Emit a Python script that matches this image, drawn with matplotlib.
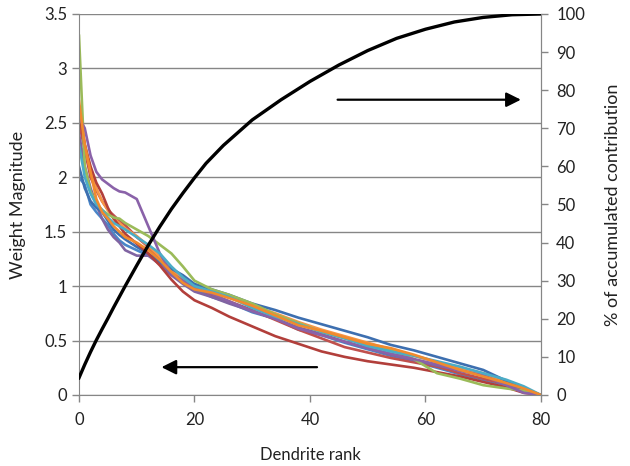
import matplotlib
matplotlib.use("Agg")
import matplotlib.pyplot as plt
from matplotlib.ticker import FuncFormatter, MultipleLocator

plt.rcParams['font.family'] = ['Lato', 'DejaVu Sans']

ranks = [0, 1, 2, 3, 4, 5, 6, 7, 8, 10, 12, 14, 16, 18, 20, 23, 26, 30, 34, 38,
         42, 46, 50, 54, 58, 62, 66, 70, 74, 77, 80]

w_blue = [2.1, 1.9, 1.78, 1.72, 1.68, 1.6, 1.52, 1.47, 1.43, 1.36, 1.3, 1.22, 1.16, 1.1, 1.02, 0.97,
          0.92, 0.84, 0.78, 0.71, 0.65, 0.59, 0.53, 0.46, 0.41, 0.35, 0.29, 0.23, 0.13, 0.05, 0.0]
w_red = [2.6, 2.3, 2.1, 1.95, 1.85, 1.72, 1.62, 1.55, 1.48, 1.39, 1.3, 1.19, 1.06, 0.95, 0.87, 0.8,
         0.72, 0.63, 0.54, 0.47, 0.4, 0.35, 0.31, 0.28, 0.25, 0.21, 0.17, 0.12, 0.07, 0.02, 0.0]
w_green = [3.3, 2.1, 1.87, 1.76, 1.7, 1.66, 1.63, 1.62, 1.58, 1.52, 1.46, 1.38, 1.3, 1.18, 1.05, 0.97,
           0.92, 0.84, 0.74, 0.66, 0.58, 0.52, 0.46, 0.41, 0.33, 0.2, 0.15, 0.09, 0.06, 0.04, 0.0]
w_purple = [2.55, 2.45, 2.2, 2.05, 1.98, 1.94, 1.9, 1.87, 1.86, 1.8, 1.55, 1.3, 1.12, 1.05, 0.98, 0.93,
            0.86, 0.77, 0.7, 0.61, 0.55, 0.49, 0.43, 0.38, 0.33, 0.28, 0.22, 0.18, 0.09, 0.02, 0.0]
w_aqua = [2.3, 2.0, 1.85, 1.75, 1.7, 1.63, 1.58, 1.55, 1.52, 1.45, 1.38, 1.3, 1.18, 1.08, 1.0, 0.95,
          0.9, 0.8, 0.72, 0.65, 0.58, 0.52, 0.45, 0.4, 0.36, 0.31, 0.26, 0.2, 0.14, 0.08, 0.0]
w_orange = [2.7, 2.3, 2.05, 1.8, 1.68, 1.62, 1.55, 1.5, 1.45, 1.4, 1.33, 1.24, 1.13, 1.03, 0.97, 0.94,
            0.89, 0.82, 0.73, 0.64, 0.59, 0.53, 0.47, 0.43, 0.37, 0.3, 0.23, 0.17, 0.11, 0.06, 0.0]
w_blue2 = [2.0, 1.93, 1.75, 1.68, 1.62, 1.56, 1.48, 1.42, 1.38, 1.33, 1.28, 1.26, 1.13, 1.03, 0.97, 0.9,
           0.85, 0.76, 0.7, 0.6, 0.55, 0.48, 0.42, 0.36, 0.31, 0.25, 0.19, 0.14, 0.09, 0.03, 0.0]
w_red2 = [2.5, 2.25, 2.0, 1.88, 1.78, 1.7, 1.65, 1.6, 1.56, 1.45, 1.36, 1.23, 1.12, 1.04, 0.99, 0.92,
          0.86, 0.78, 0.69, 0.6, 0.52, 0.44, 0.39, 0.34, 0.3, 0.26, 0.2, 0.15, 0.1, 0.03, 0.0]
w_purple2 = [2.4, 2.1, 1.9, 1.75, 1.62, 1.52, 1.45, 1.4, 1.33, 1.28, 1.28, 1.2, 1.1, 1.02, 0.95, 0.9,
             0.84, 0.77, 0.7, 0.62, 0.56, 0.49, 0.43, 0.37, 0.32, 0.27, 0.23, 0.19, 0.1, 0.03, 0.0]
w_teal2 = [2.65, 2.3, 2.05, 1.9, 1.78, 1.7, 1.62, 1.58, 1.53, 1.46, 1.37, 1.27, 1.15, 1.06, 1.01, 0.96,
           0.9, 0.82, 0.75, 0.67, 0.6, 0.54, 0.48, 0.42, 0.36, 0.3, 0.25, 0.2, 0.12, 0.06, 0.0]

# accumulated contribution (%)
cum_rank = [0, 1, 2, 3, 4, 5, 6, 8, 10, 12, 14, 16, 18, 20, 22, 25, 30, 35, 40, 45, 50, 55, 60, 65,
            70, 75, 80]
cum_pct = [4.5, 8.0, 11.3, 14.4, 17.3, 20.1, 23.0, 28.6, 34.0, 39.3, 44.2, 48.8, 53.0, 57.0, 60.8,
           65.5, 72.2, 77.5, 82.3, 86.6, 90.4, 93.6, 96.0, 97.9, 99.1, 99.8, 100]

series = [
    (w_blue2, '#4A86C8'), (w_red2, '#C0504D'), (w_purple2, '#8064A2'), (w_teal2, '#F79646'),
    (w_blue, '#3D6FB0'), (w_red, '#B23F3B'), (w_green, '#9BBB59'), (w_purple, '#8A62A9'),
    (w_aqua, '#4BACC6'), (w_orange, '#F08A2E'),
]

grey = '#868686'
txt = '#222222'
fig = plt.figure(figsize=(6.3, 4.66), dpi=100)
ax = fig.add_axes([0.1254, 0.1524, 0.7333, 0.8176])

for vals, col in series:
    ax.plot(ranks, vals, color=col, lw=1.9, solid_joinstyle='round')

ax.set_xlim(0, 80)
ax.set_ylim(0, 3.5)
ax.xaxis.set_major_locator(MultipleLocator(20))
ax.yaxis.set_major_locator(MultipleLocator(0.5))
ax.yaxis.set_major_formatter(FuncFormatter(lambda v, p: '{:g}'.format(v)))
ax.grid(axis='y', color=grey, lw=1)
ax.set_axisbelow(True)
ax.spines['top'].set_visible(False)
for s in ['left', 'bottom', 'right']:
    ax.spines[s].set_color(grey)
ax.tick_params(colors=grey, labelcolor=txt, labelsize=12, length=5, width=1)
ax.tick_params(axis='x', pad=7)
ax.set_xlabel('Dendrite rank', fontsize=12, color=txt, labelpad=14)
ax.set_ylabel('Weight Magnitude', fontsize=13, color=txt, labelpad=13)

ax2 = ax.twinx()
ax2.plot(cum_rank, cum_pct, color='black', lw=2.4)
ax2.set_ylim(0, 100)
ax2.yaxis.set_major_locator(MultipleLocator(10))
ax2.spines['top'].set_visible(False)
ax2.spines['right'].set_color(grey)
ax2.spines['left'].set_visible(False)
ax2.spines['bottom'].set_visible(False)
ax2.tick_params(colors=grey, labelcolor=txt, labelsize=12, length=5, width=1, pad=6)
ax2.set_ylabel('% of accumulated contribution', fontsize=13, color=txt, labelpad=14)

arrow = dict(arrowstyle='-|>', color='black', lw=1.6, mutation_scale=22)
ax2.annotate('', xy=(77, 77.5), xytext=(44.3, 77.5), arrowprops=arrow)
ax2.annotate('', xy=(13.8, 7.3), xytext=(41.7, 7.3), arrowprops=arrow)

fig.savefig('out.png', dpi=100)
